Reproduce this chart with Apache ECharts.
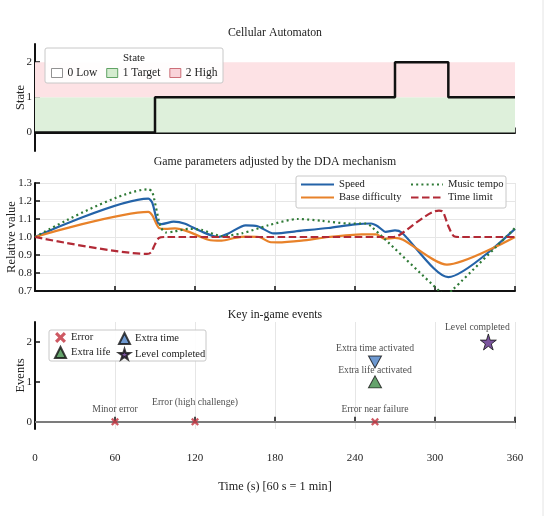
<!DOCTYPE html>
<html><head><meta charset="utf-8">
<script src="https://cdn.jsdelivr.net/npm/echarts@6/dist/echarts.min.js"></script>
<style>html,body{margin:0;padding:0;background:#fff}#c{width:550px;height:516px}</style>
</head><body><div id="c"></div>
<script>
// ---- data ----
const timeTicks = [0, 60, 120, 180, 240, 300, 360];
const stateT = [0, 90, 270, 310, 360];
const stateV = [0, 1, 2, 1, 1];
const stateTicks = [0, 1, 2];
const stateNames = ['0 Low', '1 Target', '2 High'];
const stateBandLow = [0, 1];
const stateBandHigh = [1, 2];

const paramNames = ['Speed', 'Base difficulty', 'Music tempo', 'Time limit'];
const speed = [[0,1.0],[85,1.213],[88,1.19],[92,1.08],[95,1.072],[104,1.085],[112,1.075],[125,1.03],[137,1.0],[145,1.02],[158,1.065],[167,1.06],[179,1.02],[200,1.035],[220,1.05],[240,1.07],[252,1.075],[257,1.06],[263,1.028],[270,1.037],[275,1.025],[310,0.777],[360,1.045]];
const baseDifficulty = [[0,1.0],[85,1.14],[88,1.12],[93,1.05],[98,1.045],[105,1.048],[115,1.03],[130,0.985],[140,0.98],[150,0.995],[158,1.002],[168,1.0],[176,0.972],[182,0.97],[200,0.98],[220,1.0],[245,1.015],[256,1.015],[262,0.99],[270,0.995],[276,0.985],[309,0.846],[360,1.0]];
const musicTempo = [[0,1.0],[85,1.265],[88,1.25],[94,1.06],[98,1.025],[104,1.03],[115,1.045],[125,1.04],[140,1.005],[155,1.02],[175,1.065],[197,1.1],[215,1.09],[235,1.075],[248,1.075],[252,1.06],[304,0.695],[308,0.68],[313,0.705],[360,1.05]];
const timeLimit = [[0,1.0],[84,0.906],[87,0.915],[90,0.96],[93,0.995],[97,1.0],[268,1.0],[272,1.005],[303,1.147],[306,1.14],[310,1.06],[314,1.005],[318,1.0],[360,1.0]];
const paramTicks = [0.7, 0.8, 0.9, 1.0, 1.1, 1.2, 1.3];

const eventNames = ['Error', 'Extra life', 'Extra time', 'Level completed'];
const errorT = [60, 120, 255];
const errorV = [0, 0, 0];
const errorLabels = ['Minor error', 'Error (high challenge)', 'Error near failure'];
const lifeT = [255];
const lifeV = [1];
const lifeLabels = ['Extra life activated'];
const extraT = [255];
const extraV = [1.5];
const extraLabels = ['Extra time activated'];
const levelT = [340];
const levelV = [2];
const levelLabels = ['Level completed'];
const eventTicks = [0, 1, 2];

const titles = ['Cellular Automaton', 'Game parameters adjusted by the DDA mechanism', 'Key in-game events'];
const yNames = ['State', 'Relative value', 'Events'];
const xName = 'Time (s) [60 s = 1 min]';

// ---- styles ----
const FONT = '"Liberation Serif", "DejaVu Serif", serif';
const TXT = '#222';
const cBlue = '#2463a8', cOrange = '#e8822a', cGreen = '#2f7a36', cRed = '#b22a36';
const bandGreen = '#def0db', bandPink = '#fde2e5';
const X_PATH = 'path://M0,2L2,0L5,3L8,0L10,2L7,5L10,8L8,10L5,7L2,10L0,8L3,5Z';
const STAR_PATH = 'path://M50,0L61,35L98,35L68,57L79,91L50,70L21,91L32,57L2,35L39,35Z';

function xAxisFor(i, showLabels) {
  return {
    type: 'value', gridIndex: i, min: timeTicks[0], max: timeTicks[timeTicks.length-1],
    interval: timeTicks[1] - timeTicks[0],
    axisLine: {show: true, lineStyle: {color: '#111', width: 2}},
    axisTick: {show: true, inside: true, length: 5, lineStyle: {color: '#111', width: 1.5}},
    axisLabel: {show: showLabels, margin: 24, fontFamily: FONT, fontSize: 11, color: TXT},
    splitLine: {show: i > 0, lineStyle: {color: '#e6e6e6', width: 1}},
    name: showLabels ? xName : '', nameLocation: 'middle', nameGap: 52, nameMoveOverlap: false,
    nameTextStyle: {fontFamily: FONT, fontSize: 12.2, color: TXT}
  };
}
const yCommon = {
  axisLine: {show: true, lineStyle: {color: '#111', width: 2}},
  axisTick: {show: true, inside: true, length: 5, lineStyle: {color: '#111', width: 1.5}},
  nameLocation: 'middle', nameRotate: 90, nameMoveOverlap: false,
  nameTextStyle: {fontFamily: FONT, fontSize: 12.5, color: TXT}
};
const labelStyle = {fontFamily: FONT, fontSize: 11, color: TXT, margin: 3};

const zip = (a, b) => a.map((v, i) => [v, b[i]]);

const errorDist = [3, 10, 3];

const gridBase = {left: 35, right: 35, containLabel: false, outerBoundsMode: 'none'};

const option = {
  animation: false,
  backgroundColor: '#fff',
  title: titles.map((t, i) => ({
    text: t, left: 275, textAlign: 'center', top: [27, 156, 309][i], padding: 0,
    textStyle: {fontFamily: FONT, fontSize: 11.8, fontWeight: 'normal', color: TXT}
  })),
  grid: [
    Object.assign({}, gridBase, {top: 44, height: 107}),
    Object.assign({}, gridBase, {top: 183, height: 108}),
    Object.assign({}, gridBase, {top: 322, height: 107})
  ],
  xAxis: [xAxisFor(0, false), xAxisFor(1, false), xAxisFor(2, true)],
  yAxis: [
    Object.assign({}, yCommon, {
      type: 'value', gridIndex: 0, min: -0.53, max: 2.52, name: yNames[0], nameGap: 8,
      axisTick: Object.assign({}, yCommon.axisTick, {customValues: stateTicks}),
      axisLabel: Object.assign({}, labelStyle, {customValues: stateTicks}),
      splitLine: {show: false}
    }),
    Object.assign({}, yCommon, {
      type: 'value', gridIndex: 1, min: paramTicks[0], max: paramTicks[paramTicks.length-1],
      interval: 0.1, name: yNames[1], nameGap: 17,
      axisLabel: Object.assign({}, labelStyle, {formatter: v => v.toFixed(1)}),
      splitLine: {show: true, lineStyle: {color: '#e6e6e6', width: 1}}
    }),
    Object.assign({}, yCommon, {
      type: 'value', gridIndex: 2, min: -0.18, max: 2.5, name: yNames[2], nameGap: 8,
      axisTick: Object.assign({}, yCommon.axisTick, {customValues: eventTicks}),
      axisLabel: Object.assign({}, labelStyle, {customValues: eventTicks}),
      splitLine: {show: false}
    })
  ],
  legend: [
    {
      data: stateNames.map((n, i) => ({name: n, itemStyle: {
        color: ['#ffffff', '#c9e7c3', '#f8c8cf'][i],
        borderColor: ['#777777', '#3f8f45', '#c0505c'][i], borderWidth: 1}})),
      left: 51, top: 67, padding: 0, itemWidth: 11, itemHeight: 9, itemGap: 9, icon: 'rect',
      textStyle: {fontFamily: FONT, fontSize: 11.5, color: TXT}, z: 30
    },
    {
      data: [paramNames[0], paramNames[1]], orient: 'vertical', left: 300, top: 179, padding: 0,
      itemWidth: 33, itemHeight: 12, itemGap: 2, itemStyle: {opacity: 0},
      textStyle: {fontFamily: FONT, fontSize: 10.6, color: TXT}, z: 30
    },
    {
      data: [paramNames[2], paramNames[3]], orient: 'vertical', left: 410, top: 179, padding: 0,
      itemWidth: 32, itemHeight: 12, itemGap: 2, itemStyle: {opacity: 0},
      textStyle: {fontFamily: FONT, fontSize: 10.6, color: TXT}, z: 30
    },
    {
      data: [eventNames[0], eventNames[1]], orient: 'vertical', left: 54, top: 332, padding: 0,
      itemWidth: 11, itemHeight: 11, itemGap: 3,
      textStyle: {fontFamily: FONT, fontSize: 10.5, color: TXT}, z: 30
    },
    {
      data: [eventNames[2], eventNames[3]], orient: 'vertical', left: 118, top: 332, padding: 0,
      itemWidth: 11, itemHeight: 11, itemGap: 3,
      textStyle: {fontFamily: FONT, fontSize: 10.5, color: TXT}, z: 30
    }
  ],
  graphic: [
    {type: 'rect', z: 20, shape: {x: 45, y: 48, width: 178, height: 35, r: 2},
     style: {fill: 'rgba(255,255,255,0.92)', stroke: '#c8c8c8', lineWidth: 1}},
    {type: 'text', z: 31, style: {x: 134, y: 58, text: 'State', fontFamily: FONT, fontSize: 11,
     fill: TXT, textAlign: 'center', textVerticalAlign: 'middle'}},
    {type: 'rect', z: 20, shape: {x: 296, y: 176, width: 210, height: 32, r: 2},
     style: {fill: 'rgba(255,255,255,0.92)', stroke: '#c8c8c8', lineWidth: 1}},
    {type: 'rect', z: 20, shape: {x: 49, y: 330, width: 157, height: 31, r: 2},
     style: {fill: 'rgba(255,255,255,0.92)', stroke: '#c8c8c8', lineWidth: 1}},
    {type: 'line', z: 1, shape: {x1: 543, y1: 0, x2: 543, y2: 516},
     style: {stroke: '#e4e4e4', lineWidth: 1}}
  ],
  series: [
    {
      type: 'line', name: 'state', xAxisIndex: 0, yAxisIndex: 0, step: 'end', symbol: 'none',
      data: zip(stateT, stateV), lineStyle: {color: '#111', width: 2.5}, z: 5,
      markArea: {silent: true, itemStyle: {opacity: 1},
        data: [
          [{xAxis: timeTicks[0], yAxis: stateBandLow[0], itemStyle: {color: bandGreen}}, {xAxis: timeTicks[6], yAxis: stateBandLow[1]}],
          [{xAxis: timeTicks[0], yAxis: stateBandHigh[0], itemStyle: {color: bandPink}}, {xAxis: timeTicks[6], yAxis: stateBandHigh[1]}]
        ]}
    },
    ...stateNames.map(n => ({type: 'scatter', name: n, xAxisIndex: 0, yAxisIndex: 0, data: []})),
    {type: 'line', name: paramNames[0], xAxisIndex: 1, yAxisIndex: 1, data: speed, symbol: 'none',
     smooth: 0.25, lineStyle: {color: cBlue, width: 2.2}, itemStyle: {color: cBlue}},
    {type: 'line', name: paramNames[1], xAxisIndex: 1, yAxisIndex: 1, data: baseDifficulty, symbol: 'none',
     smooth: 0.25, lineStyle: {color: cOrange, width: 2.2}, itemStyle: {color: cOrange}},
    {type: 'line', name: paramNames[2], xAxisIndex: 1, yAxisIndex: 1, data: musicTempo, symbol: 'none',
     smooth: 0.25, lineStyle: {color: cGreen, width: 2.2, type: [2, 3.2]}, itemStyle: {color: cGreen}},
    {type: 'line', name: paramNames[3], xAxisIndex: 1, yAxisIndex: 1, data: timeLimit, symbol: 'none',
     smooth: 0.25, lineStyle: {color: cRed, width: 2.2, type: [7.5, 3.5]}, itemStyle: {color: cRed}},
    {type: 'scatter', name: eventNames[0], xAxisIndex: 2, yAxisIndex: 2, symbol: X_PATH, symbolSize: 8,
     itemStyle: {color: '#c2303c'}, z: 6,
     data: errorT.map((t, i) => ({value: [t, errorV[i]], label: {formatter: errorLabels[i], distance: errorDist[i]}})),
     label: {show: true, position: 'top', fontFamily: FONT, fontSize: 9.7, color: TXT},
     markLine: {silent: true, symbol: 'none', label: {show: false}, lineStyle: {color: '#7c7c7c', width: 2, type: 'solid'},
       data: [{yAxis: eventTicks[0]}]}},
    {type: 'scatter', name: eventNames[1], xAxisIndex: 2, yAxisIndex: 2, symbol: 'triangle', symbolSize: [13, 12],
     itemStyle: {color: '#3e8c47', borderColor: '#111', borderWidth: 1}, z: 6,
     data: lifeT.map((t, i) => ({value: [t, lifeV[i]], label: {formatter: lifeLabels[i]}})),
     label: {show: true, position: 'top', distance: 0, fontFamily: FONT, fontSize: 9.7, color: TXT}},
    {type: 'scatter', name: eventNames[2], xAxisIndex: 2, yAxisIndex: 2, symbol: 'triangle', symbolRotate: 180, symbolSize: [13, 12],
     itemStyle: {color: '#4a80c6', borderColor: '#111', borderWidth: 1}, z: 6,
     data: extraT.map((t, i) => ({value: [t, extraV[i]], label: {formatter: extraLabels[i]}})),
     label: {show: true, position: 'top', distance: 2, fontFamily: FONT, fontSize: 9.7, color: TXT}},
    {type: 'scatter', name: eventNames[3], xAxisIndex: 2, yAxisIndex: 2, symbol: STAR_PATH, symbolSize: 16,
     itemStyle: {color: '#5a2a86', borderColor: '#111', borderWidth: 1}, z: 6,
     data: levelT.map((t, i) => ({value: [t, levelV[i]], label: {formatter: levelLabels[i]}})),
     label: {show: true, position: 'top', distance: 1, offset: [-11, 0], fontFamily: FONT, fontSize: 9.7, color: TXT}}
  ]
};
const chart = echarts.init(document.getElementById('c'), null, {renderer: 'canvas'});
chart.setOption(option);
</script></body></html>
